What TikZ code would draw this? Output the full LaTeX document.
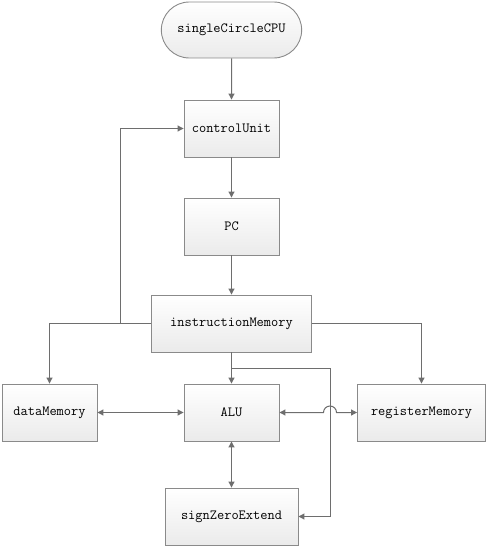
\documentclass[tikz,border=0pt]{standalone}
\usepackage{xcolor}
\usepackage{tikz}
\usetikzlibrary{shapes.misc, arrows.meta, positioning, calc}

\definecolor{boxline}{HTML}{8A8A8A}
\definecolor{wire}{HTML}{6E6E6E}

\begin{document}
\begin{tikzpicture}[x=1pt, y=-1pt,
            unit_box/.style={rectangle, draw=boxline, line width=0.9pt,
        top color=white, bottom color=gray!16,
        minimum width=95pt, minimum height=57pt, align=center,
        font=\fontsize{14}{16}\selectfont\ttfamily},
        start_box/.style={unit_box, rounded rectangle, minimum width=147pt, minimum height=56pt},
        arrow/.style={-{Triangle[length=6pt, width=6pt]}, line width=1pt, wire},
        both_arrow/.style={{Triangle[length=6pt, width=6pt]}-{Triangle[length=6pt, width=6pt]}, line width=1pt, wire},
        wire_line/.style={line width=1pt, wire}
            ]
            \useasboundingbox (0,0) rectangle (487,548);

            % Top of the flow
            \node[start_box] (cpu) at (231.5, 30) {singleCircleCPU};
            \node[unit_box] (control) at (231.5, 128.5) {controlUnit};
            \node[unit_box] (pc) at (231.5, 226.5) {PC};
            \node[unit_box, minimum width=160pt] (imem) at (231.5, 323.5) {instructionMemory};

            % Units below the instruction memory
            \node[unit_box] (dmem) at (49.5, 412.5) {dataMemory};
            \node[unit_box] (alu) at (231.5, 412.5) {ALU};
            \node[unit_box, minimum width=128pt] (rmem) at (421.5, 412.5) {registerMemory};
            \node[unit_box, minimum width=133pt] (ext) at (231.5, 516.5) {signZeroExtend};

            % Branch points
            \coordinate (loop) at (120.5, 323.5);
            \coordinate (split) at (231.5, 368.5);
            \coordinate (hop) at (323.5, 412.5);

            % Main chain
            \draw[arrow] (cpu) -- (control);
            \draw[arrow] (control) -- (pc);
            \draw[arrow] (pc) -- (imem);
            \draw[arrow] (imem) -- (alu);

            % From instructionMemory to the sides
            \draw[arrow] (imem.west) -| (dmem.north);
            \draw[arrow] (loop) |- (control.west);
            \draw[arrow] (imem.east) -| (rmem.north);
            \draw[arrow] (split) -| (330.5, 460) |- (ext.east);

            % Data paths
            \draw[both_arrow] (dmem) -- (alu);
            \draw[both_arrow] (alu.east) -- (hop) arc[start angle=180, end angle=360, radius=6.5] -- (rmem.west);
            \draw[both_arrow] (alu) -- (ext);

        \end{tikzpicture}
\end{document}
